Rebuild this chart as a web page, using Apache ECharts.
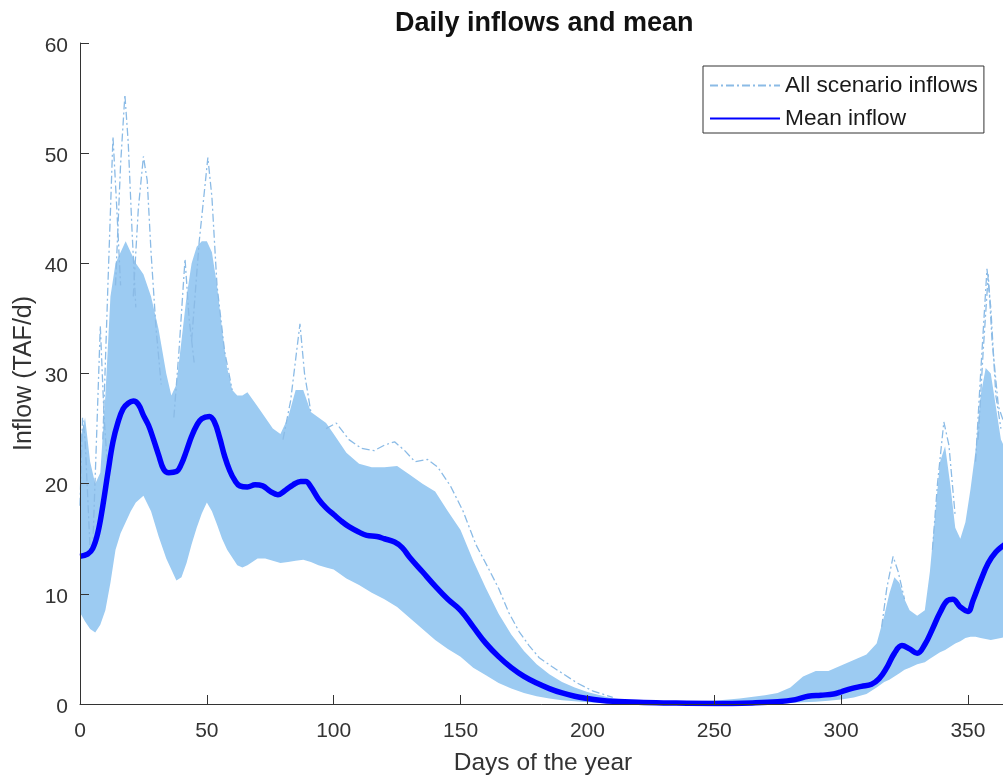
<!DOCTYPE html>
<html><head><meta charset="utf-8">
<script src="https://cdn.jsdelivr.net/npm/echarts@6/dist/echarts.min.js"></script>
<style>html,body{margin:0;padding:0;background:#fff}#c{width:1003px;height:779px}</style>
</head><body><div id="c"></div>
<script>
// ---- data ----
const meanDays = [0,3,5,7,9,11,13,15,17,19,21,23,25,27,29,31,33,35,38,40,42,44,46,48,51,53,55,57,59,61,63,66,69,72,75,78,81,84,87,89,91,94,97,100,103,106,110,113,117,120,124,127,130,135,140,145,150,155,160,165,170,175,180,185,190,195,200,205,210,220,230,250,265,275,282,287,292,297,300,304,308,312,315,318,321,324,327,330,333,336,339,342,344,347,350,352,355,358,361,364,365];
const meanVals = [13.4,13.6,14.1,15.5,18.0,21.0,23.8,25.6,26.8,27.3,27.5,27.2,26.2,25.3,24.0,22.6,21.3,21.0,21.1,21.8,23.0,24.3,25.3,25.9,26.1,25.6,24.2,22.5,21.2,20.3,19.8,19.7,19.9,19.8,19.3,19.0,19.4,19.9,20.2,20.2,19.7,18.6,17.8,17.2,16.6,16.1,15.6,15.3,15.2,15.0,14.7,14.2,13.3,12.0,10.7,9.5,8.5,7.0,5.5,4.3,3.3,2.5,1.9,1.4,1.0,0.7,0.5,0.35,0.25,0.15,0.1,0.05,0.1,0.2,0.4,0.7,0.8,0.9,1.1,1.4,1.6,1.8,2.3,3.3,4.6,5.3,5.0,4.6,5.4,6.8,8.3,9.4,9.5,8.8,8.4,9.4,11.2,12.8,13.8,14.4,14.5];

// dense bundle of all scenarios: upper and lower edge per day
const bandDays = [0,2,4,6,8,10,12,14,16,18,20,22,25,28,31,34,36,38,40,42,44,46,48,50,52,54,56,58,60,62,64,66,70,73,76,79,82,85,88,91,94,97,100,105,110,115,120,125,130,135,140,145,150,155,160,165,170,175,180,185,190,195,200,205,210,220,230,240,250,260,270,275,280,285,290,295,300,305,310,314,317,319,321,323,325,327,330,333,335,337,339,341,343,345,347,349,351,353,355,357,359,361,363,365];
const bandHigh = [24,26,22,20,21,28,37,40,41,42,41,40,39,37,34,30,28,29,33,37,40,41.5,42,42,41,38,34,30.5,28.5,28,28,28.3,27,26,25,24.5,26,28.5,28.5,26.5,26,25.5,24.5,22.8,21.8,21.5,21.5,21.6,20.8,20,19.3,17.5,15.8,13,10.5,8.2,6.3,4.8,3.6,2.7,2.0,1.5,1.1,0.8,0.5,0.3,0.25,0.25,0.3,0.5,0.8,1.0,1.5,2.5,3.0,3.0,3.5,4.0,4.5,5.5,8,10,11.5,11,9.5,8.5,8,8.5,12,17,22,23.4,20,16,15,16.5,19.5,23,28,30.5,30,27,24,23];
const bandLow = [8.3,7.5,6.8,6.5,7.2,8.5,11,14,15.5,16.5,17.5,18.3,18.9,17.5,15.2,13.2,12.2,11.2,11.5,12.8,14.5,16,17.3,18.3,17.5,16.3,15,14,13.3,12.6,12.4,12.6,13.2,13.2,13,12.8,12.9,13,13.1,12.9,12.6,12.4,12.2,11.4,10.8,10.1,9.5,8.8,7.8,6.8,5.8,5.0,4.3,3.3,2.6,1.9,1.4,1.0,0.7,0.5,0.35,0.25,0.15,0.1,0.05,0.02,0,0,0,0,0.02,0.05,0.1,0.15,0.2,0.3,0.4,0.6,0.9,1.5,2.0,2.2,2.5,2.8,3.1,3.3,3.6,3.8,4.1,4.4,4.7,4.9,5.2,5.5,5.7,6.0,6.1,6.1,6.0,5.9,5.8,5.9,6.0,6.1];

// individual scenario traces that stand out of the dense bundle [day, TAF/d]
const sc1 = [[0,18],[1,26],[2,24],[3,19],[4,14]];
const sc2 = [[5,14],[6.5,24],[8,34.3],[9.5,26],[11,21]];
const sc3 = [[9,24],[11,38],[13,51.5],[14.5,45],[16,38]];
const sc4 = [[14,38],[16,49],[17.7,55.3],[19,51],[20.5,43],[22,36]];
const sc5 = [[21,37],[23,45],[25,49.7],[26.5,47.5],[28,41],[30,34],[32,29]];
const sc6 = [[37,26],[39,32],[41.4,40.4],[43,35],[45,31]];
const sc7 = [[44,33],[47,42],[50.4,49.6],[52,46],[54,38],[57,32],[60,28.5]];
const sc8 = [[80,24],[83,27.5],[86.7,34.5],[88.5,30],[91,26.5]];
const sc9 = [[97,25],[101,25.5],[106,24],[111,23.2],[116,23],[120,23.5],[124,23.8],[128,23],[132,22],[137,22.2],[141,21.5],[146,19.8],[151,17.5],[156,14.5],[161,12.3],[165,10.5],[169,8.3],[173,6.6],[177,5.3],[181,4.2],[186,3.4],[190,2.8],[196,1.9],[202,1.2],[210,0.6]];
const sc10 = [[316,7],[318,10.5],[320.5,13.4],[322.5,12],[325,9.5]];
const sc11 = [[336,14],[338,20],[340.5,25.6],[342.5,23.5],[345,17]];
const sc12 = [[353,22],[355,30],[357.5,39.5],[359,36],[361,28],[363,25]];
const sc13 = [[354,24],[356,32],[358,39],[359.5,33],[362,27],[365,25]];
const scenarios = [sc1,sc2,sc3,sc4,sc5,sc6,sc7,sc8,sc9,sc10,sc11,sc12,sc13];

const xTickStep = 50;
const yTickStep = 10;
// ---- end data ----

const FONT = '"Liberation Sans", Arial, Helvetica, sans-serif';
const AX = '#333333';
const FILL = '#9ccbf2';
const DASH = '#8bbbe6';

const series = [];
series.push({
  name: 'band', type: 'custom', silent: true, z: 1,
  data: [[0, 0]],
  renderItem: function (params, api) {
    const pts = [];
    for (let i = 0; i < bandDays.length; i++) pts.push(api.coord([bandDays[i], bandHigh[i]]));
    for (let i = bandDays.length - 1; i >= 0; i--) pts.push(api.coord([bandDays[i], bandLow[i]]));
    return {type: 'polygon', shape: {points: pts}, style: {fill: FILL, stroke: null}};
  }
});
scenarios.forEach(sc => series.push({
  name: 'All scenario inflows', type: 'line', symbol: 'none', silent: true, z: 2,
  lineStyle: {color: DASH, width: 1.3, type: [8, 3, 2, 3]},
  itemStyle: {color: DASH},
  data: sc
}));
series.push({
  name: 'Mean inflow', type: 'line', symbol: 'none', silent: true, z: 3, smooth: 0.4,
  lineStyle: {color: '#0000ff', width: 5.5}, itemStyle: {color: '#0000ff'},
  data: meanDays.map((d, i) => [d, meanVals[i]])
});

const chart = echarts.init(document.getElementById('c'), null, {renderer: 'canvas'});
chart.setOption({
  animation: false,
  backgroundColor: '#ffffff',
  textStyle: {fontFamily: FONT},
  title: {
    text: 'Daily inflows and mean', left: 395, top: 10, padding: 0,
    textStyle: {fontFamily: FONT, fontSize: 27, fontWeight: 'bold', color: '#111'}
  },
  legend: {
    data: [
      {name: 'All scenario inflows', itemStyle: {opacity: 0}},
      {name: 'Mean inflow', itemStyle: {opacity: 0}}
    ],
    orient: 'vertical', left: 703, top: 66,
    itemWidth: 70, itemHeight: 14, itemGap: 10,
    padding: [8, 6, 3, 6],
    borderColor: '#333', borderWidth: 1, borderRadius: 0, backgroundColor: '#fff',
    selectedMode: false,
    itemStyle: {opacity: 0},
    textStyle: {fontFamily: FONT, fontSize: 22.7, color: '#1a1a1a'}
  },
  grid: {left: 80, right: -3, top: 43, bottom: 75, containLabel: false, outerBoundsMode: 'none'},
  xAxis: {
    type: 'value', min: 0, max: 365, interval: xTickStep, z: 10,
    name: 'Days of the year', nameLocation: 'middle', nameGap: 47, nameMoveOverlap: false,
    nameTextStyle: {fontFamily: FONT, fontSize: 24.5, color: AX},
    axisLine: {show: true, lineStyle: {color: AX, width: 1}},
    axisTick: {show: true, inside: true, length: 9, lineStyle: {color: AX}},
    axisLabel: {fontFamily: FONT, fontSize: 21, color: AX, margin: 17, showMaxLabel: false},
    splitLine: {show: false}
  },
  yAxis: {
    type: 'value', min: 0, max: 60, interval: yTickStep, z: 10,
    name: 'Inflow (TAF/d)', nameLocation: 'middle', nameGap: 43, nameMoveOverlap: false,
    nameTextStyle: {fontFamily: FONT, fontSize: 25, color: AX},
    axisLine: {show: true, lineStyle: {color: AX, width: 1}},
    axisTick: {show: true, inside: true, length: 9, lineStyle: {color: AX}},
    axisLabel: {fontFamily: FONT, fontSize: 21, color: AX, margin: 12, verticalAlign: 'top', lineHeight: 6},
    splitLine: {show: false}
  },
  series: series
});
</script>
</body></html>
